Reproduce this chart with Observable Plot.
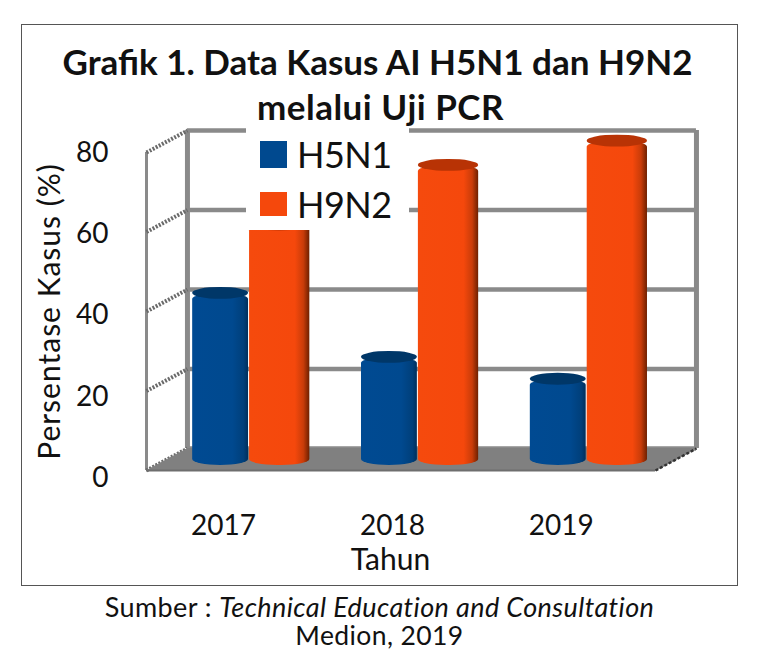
<!DOCTYPE html>
<html>
<head>
<meta charset="utf-8">
<script src="https://cdn.jsdelivr.net/npm/d3@7"></script>
<script src="https://cdn.jsdelivr.net/npm/@observablehq/plot@0.6"></script>
<style>
html,body{margin:0;padding:0;background:#fff;}
#page{position:relative;width:759px;height:657px;overflow:hidden;font-family:Lato,sans-serif;color:#111;}
#frame{position:absolute;left:21px;top:24px;width:715px;height:560px;border:1px solid #555;}
#title{position:absolute;left:0;width:755px;top:39px;text-align:center;font-weight:700;font-size:35px;line-height:45px;}
#title span{letter-spacing:.5px;margin-left:6px;}
#chart{position:absolute;left:0;top:125px;}
#chart svg{overflow:visible;}
#legend{position:absolute;left:246px;top:128px;width:163px;height:102px;background:#fff;}
.sw{position:absolute;left:14px;width:27px;}
.lb{position:absolute;left:51px;font-size:36px;line-height:46px;letter-spacing:-.5px;}
#caption{position:absolute;left:0;width:759px;top:593px;text-align:center;font-size:27px;line-height:28px;letter-spacing:.4px;}
#caption .l2{font-size:26.5px;}
.ylab text{letter-spacing:1px;}
</style>
</head>
<body>
<div id="page">
  <div id="frame"></div>
  <div id="title">Grafik 1. Data Kasus AI H5N1 dan H9N2<br><span>melalui Uji PCR</span></div>
  <div id="chart"></div>
  <div id="legend"></div>
  <div id="caption">Sumber : <i>Technical Education and Consultation</i><br><span class="l2">Medion, 2019</span></div>
</div>
<script>
const years = [2017, 2018, 2019];
const h5n1 = [43.3, 27.2, 21.7];
const h9n2 = [60.5, 75.5, 81.6];
const yTicks = [0, 20, 40, 60, 80];
const seriesNames = ["H5N1", "H9N2"];
const seriesColors = ["#00498f", "#f5480c"];

// Oblique depth of the fake 3D box, in data units
const depthX = 0.2426, depthY = 5.53;
const barShiftX = 0.1065, barShiftY = 1.26, capHalf = 1.5;
const xMin = 2016.49, xMax = 2019.505;
// The reference's tick labels are spaced slightly wider than its front axis
const labelStretch = 1.019;

const bars = [];
years.forEach((yr, i) => {
  bars.push({series: "H5N1", x1: yr + barShiftX - 0.343, x2: yr + barShiftX - 0.012, v: h5n1[i]});
});
years.forEach((yr, i) => {
  bars.push({series: "H9N2", x1: yr + barShiftX - 0.006, x2: yr + barShiftX + 0.351, v: h9n2[i]});
});
const blue = bars.filter(d => d.series === "H5N1");
const orange = bars.filter(d => d.series === "H9N2");

const floor = [
  {x: xMin, y: 0}, {x: xMin + depthX, y: depthY},
  {x: xMax + depthX, y: depthY}, {x: xMax, y: 0}
];

function gradients() {
  const svg = d3.create("svg:g");
  const defs = svg.append("defs");
  const make = (id, stops) => {
    const g = defs.append("linearGradient").attr("id", id);
    stops.forEach(([o, c]) => g.append("stop").attr("offset", o).attr("stop-color", c));
  };
  make("gBlue", [["0", "#004a92"], ["0.72", "#00498f"], ["0.92", "#003f7a"], ["1", "#002f5c"]]);
  make("gOrange", [["0", "#f54a0d"], ["0.76", "#f5480c"], ["0.9", "#c93c09"], ["1", "#6e2000"]]);
  return svg.node();
}

function barMarks(data, fill, capFill) {
  return [
    Plot.rect(data, {
      x1: "x1", x2: "x2",
      y1: () => barShiftY,
      y2: d => d.v + barShiftY,
      fill, rx: 28, ry: 6
    }),
    Plot.rect(data, {
      x1: "x1", x2: "x2",
      y1: d => d.v + barShiftY - capHalf,
      y2: d => d.v + barShiftY + capHalf,
      fill: capFill, rx: 30, ry: 6
    })
  ];
}

const plot = Plot.plot({
  width: 759,
  height: 455,
  marginLeft: 146,
  marginRight: 61,
  marginTop: 27,
  marginBottom: 110,
  x: {domain: [xMin, xMax], range: [146, 655]},
  y: {domain: [0, 80], range: [345, 27], axis: null},
  marks: [
    gradients,
    // left and back walls
    Plot.ruleX([xMin], {y1: 0, y2: 80, stroke: "#8a8a8a", strokeWidth: 3}),
    Plot.ruleX([xMin + depthX, xMax + depthX], {y1: depthY, y2: 80 + depthY, stroke: "#8a8a8a", strokeWidth: 5}),
    Plot.ruleY(yTicks.map(v => v + depthY), {x1: xMin + depthX, x2: xMax + depthX, stroke: "#8a8a8a", strokeWidth: 4.5}),
    Plot.link(yTicks, {
      x1: xMin, y1: d => d,
      x2: xMin + depthX, y2: d => d + depthY,
      stroke: "#6a6a6a", strokeWidth: 4, strokeDasharray: "2 1.5"
    }),
    // floor
    Plot.line(floor, {x: "x", y: "y", fill: "#808080", stroke: "#808080", strokeWidth: 1}),
    Plot.ruleY([0], {x1: xMin, x2: xMax, stroke: "#6e6e6e", strokeWidth: 2}),
    Plot.link([0], {
      x1: xMax, y1: 0, x2: xMax + depthX, y2: depthY,
      stroke: "#333", strokeWidth: 2.5, strokeDasharray: "3 2"
    }),
    // cylinders
    ...barMarks(blue, "url(#gBlue)", "#003768"),
    ...barMarks(orange, "url(#gOrange)", "#b83305"),
    // axes
    Plot.text(yTicks, {
      x: xMin, y: d => 80 + (d - 80) * labelStretch, text: d => String(d),
      textAnchor: "end", dx: -38, dy: 1, fontSize: 28, fill: "#111"
    }),
    Plot.axisX({ticks: years, tickFormat: "d", anchor: "bottom", tickSize: 0, tickPadding: 45, label: null, fontSize: 28, dx: -9, fill: "#111"}),
    Plot.text(["Persentase Kasus (%)"], {
      x: xMin, y: 40, dx: -96, rotate: -90, fontSize: 30, fill: "#111", text: d => d, className: "ylab"
    }),
    Plot.text(["Tahun"], {
      x: 2018, y: 0, dx: -11, dy: 90, fontSize: 30, fill: "#111", text: d => d
    })
  ]
});
plot.style.fontFamily = "Lato, sans-serif";
plot.style.background = "transparent";
document.getElementById("chart").appendChild(plot);

const legend = d3.select("#legend");
const swTop = [13, 64], swH = [27, 24], lbTop = [3, 53];
seriesNames.forEach((name, i) => {
  legend.append("div").attr("class", "sw")
    .style("top", swTop[i] + "px").style("height", swH[i] + "px")
    .style("background", seriesColors[i]);
  legend.append("div").attr("class", "lb")
    .style("top", lbTop[i] + "px").text(name);
});
</script>
</body>
</html>
